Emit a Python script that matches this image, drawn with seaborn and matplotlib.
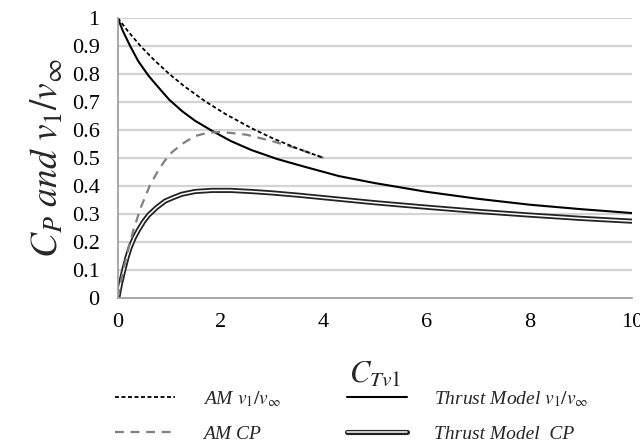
import numpy as np
import pandas as pd
import matplotlib
matplotlib.use("Agg")
import matplotlib.pyplot as plt
import matplotlib.patheffects as pe
import seaborn as sns

# values
am_v1_x = [0, 0.2, 0.44, 0.7, 1.0, 1.3, 1.7, 2.1, 2.6, 3.0, 3.5, 4.0]
am_v1_y = [1.0, 0.952, 0.9, 0.851, 0.8, 0.755, 0.702, 0.656, 0.606, 0.571, 0.533, 0.5]

am_cp_x = [0, 0.1, 0.2, 0.3, 0.45, 0.62, 0.8, 1.0, 1.25, 1.5, 1.75, 2.0, 2.5, 3.0, 3.5, 4.0]
am_cp_y = [0, 0.093, 0.17, 0.24, 0.324, 0.4, 0.46, 0.512, 0.55, 0.578, 0.59, 0.593, 0.583, 0.56, 0.533, 0.5]

tm_v1_x = [0, 0.1, 0.24, 0.4, 0.6, 0.8, 1.0, 1.25, 1.5, 1.83, 2.2, 2.6, 3.1, 3.6, 4.3, 5.0, 6.0, 7.0, 8.0, 9.0, 10.0]
tm_v1_y = [1.0, 0.953, 0.9, 0.845, 0.793, 0.75, 0.708, 0.667, 0.633, 0.597, 0.56, 0.528, 0.496, 0.47, 0.435, 0.41, 0.379, 0.354, 0.333, 0.317, 0.303]

tm_cp_x = [0, 0.05, 0.11, 0.18, 0.24, 0.32, 0.4, 0.5, 0.6, 0.75, 0.92, 1.1, 1.24, 1.5, 1.83,
           2.2, 2.6, 3.0, 3.5, 4.0, 5.0, 6.0, 7.0, 8.0, 9.0, 10.0]
tm_cp_y = [0, 0.048, 0.095, 0.145, 0.18, 0.215, 0.242, 0.272, 0.296, 0.322, 0.346, 0.36, 0.37, 0.38, 0.384,
           0.384, 0.38, 0.375, 0.367, 0.358, 0.34, 0.324, 0.309, 0.296, 0.284, 0.274]

y_ticks = [0, 0.1, 0.2, 0.3, 0.4, 0.5, 0.6, 0.7, 0.8, 0.9, 1]
y_tick_labels = ["0", "0.1", "0.2", "0.3", "0.4", "0.5", "0.6", "0.7", "0.8", "0.9", "1"]
x_ticks = [0, 2, 4, 6, 8, 10]

sns.set_theme(style="white")
plt.rcParams['font.family'] = ['Liberation Serif', 'DejaVu Serif']
plt.rcParams['mathtext.fontset'] = 'stix'

fig, ax = plt.subplots(figsize=(6.4, 4.48), dpi=100)
fig.subplots_adjust(left=0.184, right=0.988, top=0.96, bottom=0.335)

for t in y_ticks[1:]:
    ax.axhline(t, color='#d3d3d3', lw=1.6, zorder=0)

d1 = pd.DataFrame({'x': tm_cp_x, 'y': tm_cp_y})
sns.lineplot(data=d1, x='x', y='y', ax=ax, color='white', lw=1.1,
             label='Thrust Model  CP',
             path_effects=[pe.Stroke(linewidth=3.7, foreground='#222222'), pe.Normal()])

d2 = pd.DataFrame({'x': tm_v1_x, 'y': tm_v1_y})
sns.lineplot(data=d2, x='x', y='y', ax=ax, color='black', lw=1.5,
             label='Thrust Model $v_1/v_\\infty$')

d3 = pd.DataFrame({'x': am_cp_x, 'y': am_cp_y})
sns.lineplot(data=d3, x='x', y='y', ax=ax, color='#808080', lw=1.6,
             linestyle=(0, (4, 3)), label='AM CP')

d4 = pd.DataFrame({'x': am_v1_x, 'y': am_v1_y})
sns.lineplot(data=d4, x='x', y='y', ax=ax, color='black', lw=1.3,
             linestyle=(0, (2.2, 1.4)), label='AM $v_1/v_\\infty$')

ax.set_xlim(0, 10)
ax.set_ylim(0, 1)
ax.set_yticks(y_ticks)
ax.set_yticklabels(y_tick_labels)
ax.set_xticks(x_ticks)
ax.tick_params(axis='both', labelsize=16, colors='black')
ax.tick_params(axis='x', length=5, width=1.2, color='#999999', direction='out', pad=6)
ax.tick_params(axis='y', length=0, pad=13)

for s in ['top', 'right']:
    ax.spines[s].set_visible(False)
for s in ['left', 'bottom']:
    ax.spines[s].set_color('#999999')
    ax.spines[s].set_linewidth(1.2)

ax.set_xlabel('$C_{Tv1}$', fontsize=22, labelpad=20)
ax.set_ylabel('$C_P\\ and\\ v_1/v_\\infty$', fontsize=27, labelpad=4)

ax.get_legend().remove()
handles, labels = ax.get_legend_handles_labels()
order = [3, 2, 1, 0]
fig.legend([handles[i] for i in order], [labels[i] for i in order],
           loc='upper left', bbox_to_anchor=(0.18, 0.132), ncol=2,
           frameon=False, handlelength=3.1, handletextpad=1.4,
           columnspacing=3.4, labelspacing=0.85, borderpad=0, borderaxespad=0,
           prop={'style': 'italic', 'size': 14})

fig.savefig('out.png', dpi=100)
